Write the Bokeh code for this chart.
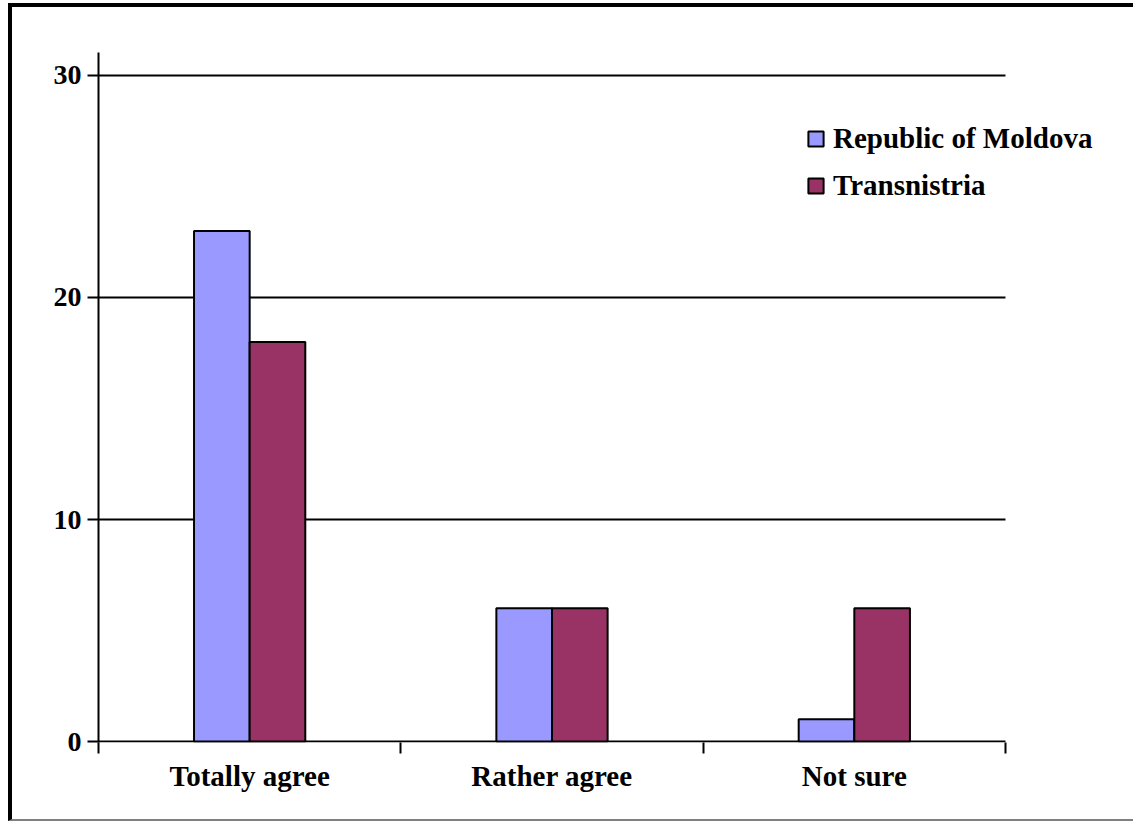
from bokeh.plotting import figure
from bokeh.models import ColumnDataSource, FixedTicker, Range1d, Legend, LegendItem
from bokeh.embed import file_html
from bokeh.resources import INLINE

categories = ["Totally agree", "Rather agree", "Not sure"]
moldova = [23, 6, 1]
transnistria = [18, 6, 6]
series_names = ["Republic of Moldova", "Transnistria"]
colors = ["#9999FF", "#993366"]
y_ticks = [0, 10, 20, 30]
grid_values = [10, 20, 30]

FONT = "Liberation Serif"
FS = "29px"

n = len(categories)
xc = [i + 0.5 for i in range(n)]
src = ColumnDataSource(dict(
    x1=[x - 0.092 for x in xc],
    x2=[x + 0.092 for x in xc],
    m=moldova, t=transnistria,
))

p = figure(width=1125, height=818, output_backend="svg", toolbar_location=None,
           x_range=Range1d(0, 3.397), y_range=Range1d(-0.045, 31.036),
           min_border_left=86, min_border_right=12, min_border_top=45, min_border_bottom=83)
p.outline_line_color = None
p.background_fill_color = "white"
p.border_fill_color = "white"

# gridlines and x axis line limited to the category span
gsrc = ColumnDataSource(dict(x0=[0] * len(grid_values), x1=[n] * len(grid_values), y=grid_values))
p.segment(x0="x0", y0="y", x1="x1", y1="y", source=gsrc, line_color="black", line_width=2)
p.segment(x0=[0], y0=[0], x1=[n], y1=[0], line_color="black", line_width=2)

r1 = p.vbar(x="x1", top="m", width=0.184, source=src, fill_color=colors[0],
            line_color="black", line_width=2)
r2 = p.vbar(x="x2", top="t", width=0.184, source=src, fill_color=colors[1],
            line_color="black", line_width=2)

# x axis
p.xaxis.ticker = FixedTicker(ticks=xc, minor_ticks=list(range(n + 1)))
p.xaxis.major_label_overrides = {x: c for x, c in zip(xc, categories)}
p.xaxis.major_tick_line_color = None
p.xaxis.major_tick_out = 0
p.xaxis.major_tick_in = 0
p.xaxis.minor_tick_out = 11
p.xaxis.minor_tick_in = 0
p.xaxis.minor_tick_line_color = "black"
p.xaxis.minor_tick_line_width = 2
p.xaxis.axis_line_color = None
p.xaxis.major_label_text_font = FONT
p.xaxis.major_label_text_font_style = "bold"
p.xaxis.major_label_text_font_size = FS
p.xaxis.major_label_text_color = "black"
p.xaxis.major_label_standoff = 6

# y axis
p.yaxis.ticker = FixedTicker(ticks=y_ticks)
p.yaxis.major_tick_out = 11
p.yaxis.major_tick_in = 0
p.yaxis.major_tick_line_width = 2
p.yaxis.major_tick_line_color = "black"
p.yaxis.minor_tick_line_color = None
p.yaxis.axis_line_color = "black"
p.yaxis.axis_line_width = 2
p.yaxis.major_label_text_font = FONT
p.yaxis.major_label_text_font_style = "bold"
p.yaxis.major_label_text_font_size = "28px"
p.yaxis.major_label_text_color = "black"
p.yaxis.major_label_standoff = 6

p.xgrid.grid_line_color = None
p.ygrid.grid_line_color = None

legend = Legend(items=[LegendItem(label=series_names[0], renderers=[r1]),
                       LegendItem(label=series_names[1], renderers=[r2])],
                location=(708, 540))
legend.label_text_font = FONT
legend.label_text_font_style = "bold"
legend.label_text_font_size = FS
legend.label_text_color = "black"
legend.glyph_width = 19
legend.glyph_height = 19
legend.label_standoff = 8
legend.spacing = 14
legend.padding = 0
legend.margin = 0
legend.border_line_color = None
legend.background_fill_alpha = 0
p.add_layout(legend)

p.styles = {"margin-left": "8px", "margin-top": "3px",
            "border-top": "4px solid black", "border-left": "4px solid black",
            "border-bottom": "2px solid #808080", "box-sizing": "border-box"}

open("out.html", "w").write(file_html(p, INLINE))
